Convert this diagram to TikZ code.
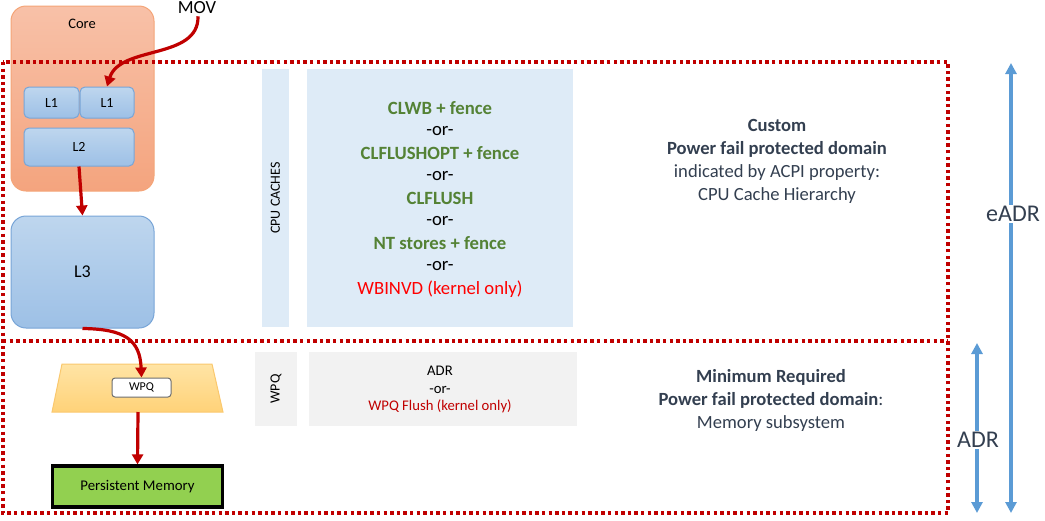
\documentclass[tikz,border=0pt]{standalone}
\usepackage{fontspec}
\setmainfont{Carlito}
\usetikzlibrary{arrows.meta}
\definecolor{dred}{RGB}{192,0,0}
\definecolor{cgreen}{RGB}{84,130,53}
\definecolor{cred}{RGB}{255,0,0}
\definecolor{txtgray}{RGB}{51,63,80}
\definecolor{lblue}{RGB}{222,235,247}
\definecolor{lgray}{RGB}{242,242,242}
\definecolor{abl}{RGB}{91,155,213}
\definecolor{pgreen}{RGB}{146,208,80}
\tikzset{
  cachebox/.style={draw={rgb,255:red,120;green,165;blue,215}, line width=1pt, rounded corners=5pt, top color={rgb,255:red,190;green,214;blue,238}, bottom color={rgb,255:red,157;green,192;blue,230}, inner sep=0pt, font=\fontsize{14}{16}\selectfont},
  redarrow/.style={draw=dred, line width=3.2pt, -{Triangle[length=10pt,width=11pt]}},
  dotline/.style={draw=dred, line width=3.6pt, dash pattern=on 3.4pt off 3.2pt},
  bluearrow/.style={draw=abl, line width=3.6pt, {Triangle[length=11pt,width=11pt]}-{Triangle[length=11pt,width=11pt]}},
  panel/.style={inner sep=0pt, minimum width=#1},
  rtext/.style={text=txtgray, align=center, font=\fontsize{18.6}{23}\selectfont},
}
\begin{document}
\begin{tikzpicture}[x=1pt,y=-1pt]
\useasboundingbox (0,0) rectangle (1045,520);
% core
\node[draw={rgb,255:red,244;green,165;blue,120}, line width=1pt, rounded corners=15pt, top color={rgb,255:red,248;green,193;blue,168}, bottom color={rgb,255:red,244;green,164;blue,126}, minimum width=143pt, minimum height=185pt, inner sep=0pt] (core) at (82.5,98.5) {};
\node[font=\fontsize{14.5}{16}\selectfont] (coretxt) at (82,24) {Core};
\node[cachebox, minimum width=55pt, minimum height=31pt] (l1a) at (51.5,102.5) {L1};
\node[cachebox, minimum width=54pt, minimum height=31pt] (l1b) at (107,102.5) {L1};
\node[cachebox, minimum width=110pt, minimum height=38pt] (l2) at (79,147) {L2};
\node[cachebox, rounded corners=15pt, minimum width=143pt, minimum height=112pt, font=\fontsize{18}{20}\selectfont] (l3) at (82.5,272) {L3};
\node[font=\fontsize{18.5}{20}\selectfont, inner sep=0pt] (mov) at (197,8) {MOV};
% trapezoid
\coordinate (tA) at (62,364); \coordinate (tB) at (212,364); \coordinate (tC) at (223,412); \coordinate (tD) at (52,412);
\path[draw={rgb,255:red,250;green,200;blue,110}, line width=1pt, top color={rgb,255:red,255;green,228;blue,165}, bottom color={rgb,255:red,255;green,210;blue,120}] (tA) -- (tB) -- (tC) -- (tD) -- cycle;
\coordinate (trapbot) at (138,412);
\node[draw={rgb,255:red,110;green,110;blue,110}, fill=white, rounded corners=3pt, line width=1pt, minimum width=59pt, minimum height=19pt, inner sep=0pt, font=\fontsize{12}{13}\selectfont] (wpq) at (141.5,387.5) {WPQ};
\node[draw=black, line width=3.2pt, fill=pgreen, minimum width=170pt, minimum height=41pt, inner sep=0pt, font=\fontsize{14.8}{16}\selectfont] (pm) at (137.5,486.5) {Persistent Memory};
% arrows
\draw[redarrow] (mov.south) ++(1,2) coordinate (movs) .. controls (199,60) and (120,45) .. (l1b.north);
\draw[redarrow] (l2.south) -- (l3.north);
\draw[redarrow] (l3.south) .. controls (125,329) and (140,340) .. (wpq.north);
\draw[redarrow] (trapbot) -- (pm.north);
% panels
\node[fill=lblue, panel=27pt, minimum height=258pt] (cpucol) at (275.5,198) {};
\node[rotate=90, font=\fontsize{14}{15}\selectfont] (cputxt) at (cpucol.center) {CPU CACHES};
\node[fill=lblue, panel=266pt, minimum height=258pt] (instr) at (440,198) {};
\node[fill=lgray, panel=42pt, minimum height=74pt] (wpqcol) at (276,389) {};
\node[rotate=90, font=\fontsize{14}{15}\selectfont] (wpqtxt) at (wpqcol.center) {WPQ};
\node[fill=lgray, panel=268pt, minimum height=74pt] (adrbox) at (443,389) {};
\begin{scope}[font=\fontsize{18.7}{20}\selectfont]
\node[text=cgreen, font=\fontsize{18.7}{20}\selectfont\bfseries] (i1) at (440,108) {CLWB + fence};
\node (o1) at (440,131) {-or-};
\node[text=cgreen, font=\fontsize{18.7}{20}\selectfont\bfseries] (i2) at (440,153.5) {CLFLUSHOPT + fence};
\node (o2) at (440,176) {-or-};
\node[text=cgreen, font=\fontsize{18.7}{20}\selectfont\bfseries] (i3) at (440,198.5) {CLFLUSH};
\node (o3) at (440,221) {-or-};
\node[text=cgreen, font=\fontsize{18.7}{20}\selectfont\bfseries] (i4) at (440,243.5) {NT stores + fence};
\node (o4) at (440,266) {-or-};
\node[text=cred] (i5) at (440,289) {WBINVD (kernel only)};
\end{scope}
\node[align=center, font=\fontsize{14.7}{17.5}\selectfont] (adrtxt) at (440,389.5) {ADR\\-or-\\\textcolor{dred}{WPQ Flush (kernel only)}};
% right text
\node[rtext] (custom) at (777,161) {\textbf{Custom}\\\textbf{Power fail protected domain}\\indicated by ACPI property:\\CPU Cache Hierarchy};
\node[rtext] (minreq) at (771,400) {\textbf{Minimum Required}\\\textbf{Power fail protected domain}:\\Memory subsystem};
% dotted domains
\coordinate (d1) at (3,62); \coordinate (d2) at (948,513);
\coordinate (m1) at (3,341); \coordinate (m2) at (948,341);
\draw[dotline] (d1) rectangle (d2);
\draw[dotline] (m1) -- (m2);
% blue arrows
\coordinate (e1) at (1011,63); \coordinate (e2) at (1011,513);
\draw[bluearrow] (e1) -- (e2);
\node[fill=white, text=txtgray, inner sep=1pt, font=\fontsize{24}{26}\selectfont] (eadr) at (1013,214) {eADR};
\coordinate (a1) at (977,343); \coordinate (a2) at (977,513);
\draw[bluearrow] (a1) -- (a2);
\node[fill=white, text=txtgray, inner sep=1pt, font=\fontsize{24}{26}\selectfont] (adr) at (978,440) {ADR};
\end{tikzpicture}
\end{document}
